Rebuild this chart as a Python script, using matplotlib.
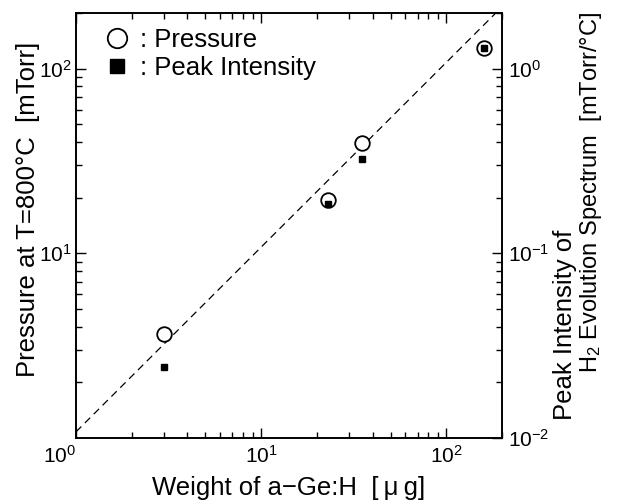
import matplotlib
matplotlib.use("Agg")
import matplotlib.pyplot as plt
from matplotlib.lines import Line2D
from matplotlib.ticker import LogLocator, NullFormatter, FixedLocator, LogFormatterSciNotation
import numpy as np

# ---- data ----
weight = [3.0, 23.0, 35.0, 160.0]              # µg
pressure = [3.65, 19.5, 39.5, 130.0]           # mTorr
peak_intensity = [0.0241, 0.186, 0.322, 1.29]  # mTorr/°C
fit_x = [1.0, 200.0]
fit_y = [1.08, 216.0]

plt.rcParams['font.family'] = ['Liberation Sans', 'DejaVu Sans']
plt.rcParams['mathtext.fontset'] = 'custom'
plt.rcParams['mathtext.rm'] = 'Liberation Sans'
plt.rcParams['mathtext.it'] = 'Liberation Sans:italic'
plt.rcParams['mathtext.bf'] = 'Liberation Sans:bold'

W, H = 617, 504
fig = plt.figure(figsize=(W/100, H/100), dpi=100)
ax = fig.add_axes([76/W, 1-438/H, (502-76)/W, (438-13)/H])
ax2 = ax.twinx()

ax.set_xscale('log'); ax.set_yscale('log'); ax2.set_yscale('log')
ax.set_xlim(1, 200); ax.set_ylim(1, 200); ax2.set_ylim(0.01, 2)

ax.plot(fit_x, fit_y, ls=(0, (6, 4)), color='black', lw=0.9)
ax.plot(weight, pressure, ls='none', marker='o', ms=10.5, mfc='white',
        mec='black', mew=1.3, zorder=3)
ax2.plot(weight, peak_intensity, ls='none', marker='s', ms=4.5,
         color='black', zorder=4)

for a in (ax, ax2):
    for s in a.spines.values():
        s.set_linewidth(1.2)

TL = 15
ax.tick_params(which='both', direction='in', top=True, right=False,
               labelsize=TL, width=1.0)
ax.tick_params(which='major', length=7)
ax.tick_params(which='minor', length=4)
ax2.tick_params(which='both', direction='in', labelsize=TL, width=1.0)
ax2.tick_params(which='major', length=7)
ax2.tick_params(which='minor', length=4)
ax.tick_params(axis='x', pad=5)
ax.tick_params(axis='y', pad=3)
ax2.tick_params(axis='y', pad=4)

ax.yaxis.set_major_locator(FixedLocator([10, 100]))
ax.yaxis.set_minor_locator(LogLocator(base=10, subs=np.arange(2, 10)))
ax.yaxis.set_minor_formatter(NullFormatter())
ax.xaxis.set_minor_formatter(NullFormatter())
ax2.yaxis.set_minor_formatter(NullFormatter())
ax.yaxis.set_major_formatter(LogFormatterSciNotation())

fig.canvas.draw()
for t in ax.get_xticklabels():
    if t.get_position()[0] == 1:
        t.set_horizontalalignment('right')

fig.text(289/W, 1-495/H, 'Weight of a\u2212Ge:H  [\u2009\u03bc\u2009g]', fontsize=18.5,
         ha='center', va='baseline')
fig.text(28/W, 1-209/H, 'Pressure at T=800\u00b0C  [mTorr]', fontsize=18.5,
         rotation=90, ha='center', va='center')

fig.text(565/W, 1-325/H, 'Peak Intensity of', rotation=90, fontsize=18.5,
         ha='center', va='center')
fig.text(591/W, 1-192/H, 'H$_2$ Evolution Spectrum  [mTorr/\u00b0C]',
         rotation=90, fontsize=17, ha='center', va='center')

handles = [Line2D([], [], ls='none', marker='o', ms=14, mfc='white', mec='black', mew=1.3),
           Line2D([], [], ls='none', marker='s', ms=10, color='black')]
ax.legend(handles, [': Pressure', ': Peak Intensity'], loc='upper left',
          frameon=False, fontsize=18.5, handlelength=1.0, handletextpad=0.4,
          labelspacing=0.15, borderaxespad=0.2, bbox_to_anchor=(0.03, 1.0))

fig.savefig('out.png', dpi=100)
